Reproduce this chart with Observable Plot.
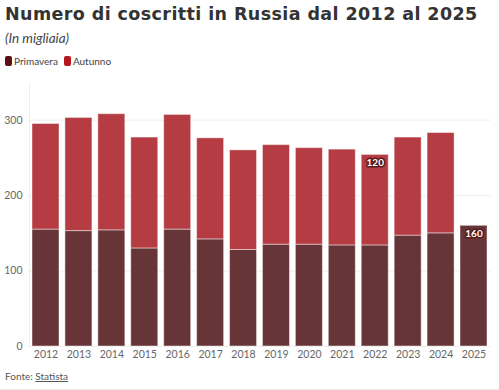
<!DOCTYPE html>
<html><head><meta charset="utf-8">
<script src="https://cdn.jsdelivr.net/npm/d3@7"></script>
<script src="https://cdn.jsdelivr.net/npm/@observablehq/plot@0.6"></script>
<style>
body{margin:0;background:#fff;font-family:Lato,"Open Sans",sans-serif;}
#wrap{width:499px;height:390px;position:relative;box-sizing:border-box;border-bottom:1px solid #eee;}
#title{position:absolute;left:5px;top:4px;font-family:"DejaVu Sans",sans-serif;font-size:17.5px;letter-spacing:0.4px;font-weight:bold;color:#333;white-space:nowrap;}
#sub{position:absolute;left:5px;top:30px;font-size:13.5px;font-style:italic;color:#444;}
#legend{position:absolute;left:5px;top:55px;font-size:10px;color:#444;display:flex;gap:6px;}
#legend span.sw{display:inline-block;width:7px;height:10px;border-radius:2px;margin-right:2px;vertical-align:-1px;}
#chart{position:absolute;left:0;top:72px;}
#foot{position:absolute;left:5px;top:370px;font-size:10px;color:#555;}
#foot u{text-decoration:underline;}
</style></head>
<body>
<div id="wrap">
<div id="title">Numero di coscritti in Russia dal 2012 al 2025</div>
<div id="sub">(In migliaia)</div>
<div id="legend"><span><span class="sw" style="background:#5c1015"></span>Primavera</span><span><span class="sw" style="background:#b8161d"></span>Autunno</span></div>
<div id="chart"></div>
<div id="foot">Fonte: <u>Statista</u></div>
</div>
<script>
const years = ["2012","2013","2014","2015","2016","2017","2018","2019","2020","2021","2022","2023","2024","2025"];
const primavera = [155, 153, 154, 130, 155, 142, 128, 135, 135, 134, 134, 147, 150, 160];
const autunno = [140, 150, 154, 147, 152, 134, 132, 132, 128, 127, 120, 130, 133, null];
const seasons = ["Primavera", "Autunno"];
const colors = ["#673537", "#b43c42"];
const yTicks = [0, 100, 200, 300];
const labeled = [{year: "2022", season: "Autunno"}, {year: "2025", season: "Primavera"}];

const data = [];
years.forEach((y, i) => {
  data.push({year: y, season: "Primavera", value: primavera[i]});
  if (autunno[i] != null) data.push({year: y, season: "Autunno", value: autunno[i]});
});
const labelData = data.filter(d => labeled.some(l => l.year === d.year && l.season === d.season))
  .map(d => {
    const i = years.indexOf(d.year);
    const top = d.season === "Autunno" ? primavera[i] + autunno[i] : primavera[i];
    return {...d, top};
  });

const chart = Plot.plot({
  width: 499,
  height: 290,
  marginTop: 10,
  marginBottom: 16,
  marginLeft: 32,
  marginRight: 12,
  style: {fontFamily: "Lato, 'Open Sans', sans-serif", fontSize: "10.5px", color: "#666"},
  x: {domain: years, label: null, tickSize: 0, tickPadding: 4, paddingInner: 0.18, paddingOuter: 0, round: false},
  y: {domain: [0, 350], ticks: yTicks, label: null, tickSize: 0, tickPadding: 10},
  color: {domain: seasons, range: colors},
  marks: [
    Plot.ruleY(yTicks, {stroke: "#eee", insetLeft: -4, insetRight: -3}),
    Plot.ruleX([years[0]], {dx: -16.5, stroke: "#eee", y1: 0, y2: 350}),
    Plot.barY(data, {x: "year", y: "value", fill: "season", order: seasons, stroke: "#fff", strokeOpacity: 0.45, strokeWidth: 1}),
    Plot.text(labelData, {x: "year", y: "top", text: d => String(d.value), dy: 8, fill: "#fff", stroke: "#5a1a1c", strokeWidth: 3, fontWeight: "bold", fontSize: 10})
  ]
});
document.getElementById("chart").appendChild(chart);
</script>
</body></html>
